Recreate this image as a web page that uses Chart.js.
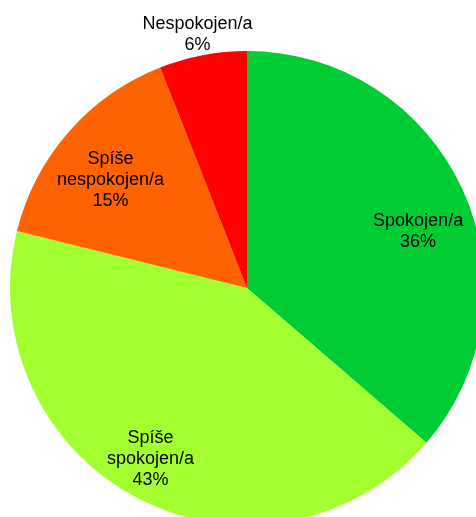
<!DOCTYPE html>
<html>
<head>
<meta charset="utf-8">
<script src="https://cdn.jsdelivr.net/npm/chart.js@4"></script>
<style>
  html, body { margin: 0; padding: 0; background: #fff; overflow: hidden; }
  #wrap { position: absolute; left: 0; top: 0; width: 494px; height: 576px; }
</style>
</head>
<body>
<div id="wrap"><canvas id="chart" width="494" height="576"></canvas></div>
<script>
const categories = [['Spokojen/a'], ['Spíše', 'spokojen/a'], ['Spíše', 'nespokojen/a'], ['Nespokojen/a']];
const values = [36.33, 42.53, 15.17, 5.97];
const colors = ['#00cc33', '#a3ff2f', '#ff6200', '#ff0000'];

// label placement: [radius factor, angle shift in degrees]
const labelPlace = [[0.76, 6.4], [0.83, 2.05], [0.735, -2.8], [1.09, -0.3]];

const sliceLabels = {
  id: 'sliceLabels',
  afterDatasetsDraw(chart) {
    const ctx = chart.ctx;
    const meta = chart.getDatasetMeta(0);
    const total = values.reduce((a, b) => a + b, 0);
    ctx.save();
    ctx.font = '18px "Liberation Sans", Arial, sans-serif';
    ctx.fillStyle = '#000';
    ctx.textAlign = 'center';
    ctx.textBaseline = 'middle';
    meta.data.forEach((arc, i) => {
      const p = arc.getProps(['x', 'y', 'startAngle', 'endAngle', 'outerRadius'], true);
      const mid = (p.startAngle + p.endAngle) / 2 + labelPlace[i][1] * Math.PI / 180;
      const r = p.outerRadius * labelPlace[i][0];
      const cx = p.x + Math.cos(mid) * r;
      const cy = p.y + Math.sin(mid) * r;
      const lines = categories[i].concat([Math.round(values[i] / total * 100) + '%']);
      const lh = 21;
      lines.forEach((t, k) => {
        ctx.fillText(t, cx, cy + (k - (lines.length - 1) / 2) * lh);
      });
    });
    ctx.restore();
  }
};

new Chart(document.getElementById('chart'), {
  type: 'pie',
  data: {
    labels: categories.map(c => c.join(' ')),
    datasets: [{
      data: values,
      backgroundColor: colors,
      borderWidth: 0
    }]
  },
  options: {
    responsive: false,
    animation: false,
    layout: { padding: 10 },
    plugins: {
      legend: { display: false },
      title: { display: false },
      tooltip: { enabled: false }
    }
  },
  plugins: [sliceLabels]
});
</script>
</body>
</html>
